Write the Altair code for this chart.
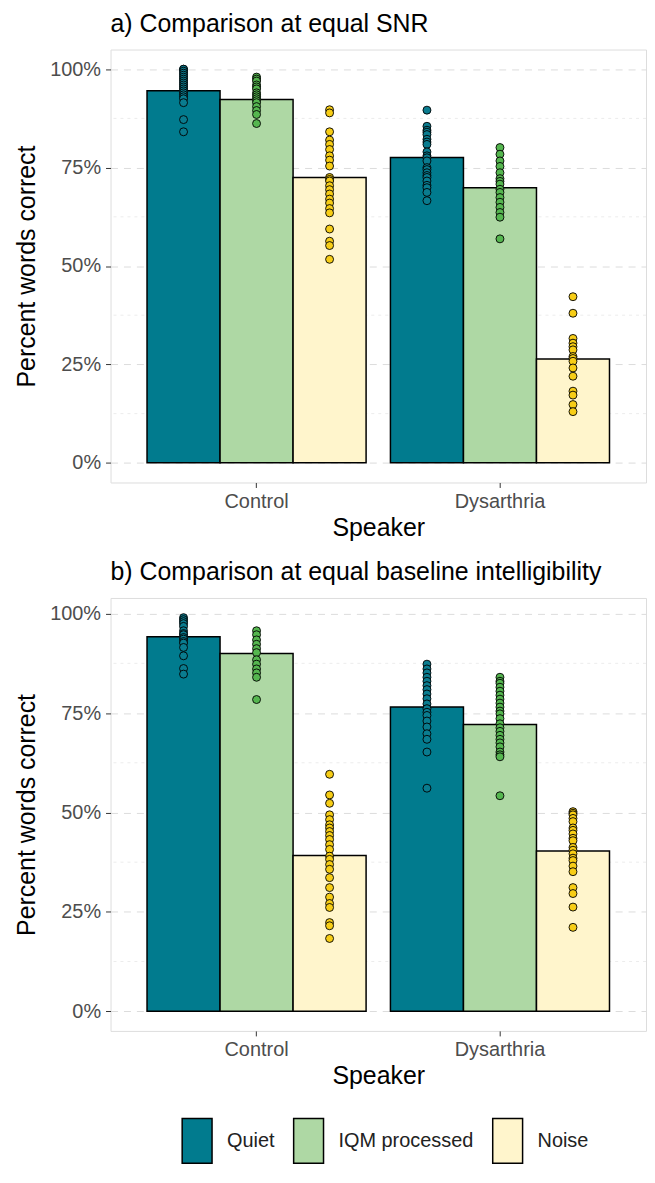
import altair as alt
import pandas as pd

speakers = ["Control", "Dysarthria"]
conditions = ["Quiet", "IQM processed", "Noise"]

# ---- individual listener scores (percent words correct) ----
# a) equal SNR
a_control_quiet = [100, 100, 99.5, 99, 98.5, 98, 97.5, 97, 96.5, 96, 95.5, 95, 94.5, 94, 93.5, 93, 92.5, 91.5, 87.2, 84.1]
a_control_iqm = [98, 97.5, 97, 96, 95.5, 95, 94, 93.5, 93, 92.5, 92, 91.5, 90.5, 89.5, 88.5, 86.2]
a_control_noise = [89.7, 88.9, 84.1, 82.0, 80.9, 79.6, 78.0, 76.9, 75.4, 72.5, 72.0, 71.6, 70.4, 69.4,
                   68.3, 67.0, 66.0, 64.6, 63.5, 59.4, 56.3, 55.2, 51.7]
a_dys_quiet = [89.6, 85.5, 84.5, 84.0, 83.4, 82.2, 81.5, 80.9, 79.0, 78.0, 77.5, 76.7, 75.0, 74.5,
               73.7, 73.0, 72.5, 71.6, 70.5, 69.9, 68.7, 66.6]
a_dys_iqm = [80.1, 78.4, 76.7, 75.3, 73.7, 72.2, 71.5, 70.8, 69.5, 68.7, 67.4, 66.2, 64.9, 63.6, 62.4, 56.9]
a_dys_noise = [42.2, 38.0, 31.6, 30.4, 29.5, 28.7, 27.0, 26.5, 25.8, 24.1, 22.0, 18.2, 17.2, 14.8, 13.0]

# b) equal baseline intelligibility
b_control_quiet = [99, 98.5, 98, 97.5, 96.8, 95.7, 95, 94.7, 94, 93.6, 93, 92.6, 91.5, 89.4, 86.2, 84.8]
b_control_iqm = [95.7, 94.7, 93.4, 92.3, 91.2, 90.2, 88.4, 87.3, 86.1, 85.1, 84.0, 78.4]
b_control_noise = [59.6, 54.4, 52.3, 49.4, 48.2, 46.9, 46.1, 45.2, 44.2, 43.2, 41.9, 40.7, 39.0, 38.2,
                   36.9, 35.7, 33.6, 31.1, 28.7, 27.1, 26.1, 22.3, 21.5, 18.3]
b_dys_quiet = [87.3, 86.1, 85.1, 84.0, 83.0, 81.9, 80.9, 79.8, 78.6, 77.3, 76.1, 75.2, 74.4, 73.0,
               71.5, 69.8, 68.4, 65.2, 56.1]
b_dys_iqm = [84, 83, 82.5, 81.5, 80.5, 79.5, 78.5, 77.5, 76.5, 75.5, 74.8, 73.6, 72.3, 71.3, 70.4,
             69.4, 68.4, 67.5, 66.5, 65.2, 64.5, 64.0, 54.2]
b_dys_noise = [50.2, 49.8, 49.4, 48.5, 47.7, 46.1, 45.5, 44.6, 43.5, 42.9, 41.2, 40.5, 39.6, 38.5,
               37.9, 36.5, 35.1, 31.1, 29.6, 26.2, 21.1]

# ---- bar heights (mean percent correct) ----
a_bar_control = [94.5, 92.3, 72.5]
a_bar_dys = [77.6, 69.9, 26.4]
b_bar_control = [94.2, 90.0, 39.2]
b_bar_dys = [76.5, 72.1, 40.3]

minor_grid = [12.5, 37.5, 62.5, 87.5]
tick_values = [0, 25, 50, 75, 100]

bar_colors = ["#017b8e", "#aed8a4", "#fff5cc"]
point_colors = ["#0a7c8f", "#55b64f", "#f7cd16"]

FONT = "Liberation Sans"

# ---- build tables ----
point_sets = {
    "a": [a_control_quiet, a_control_iqm, a_control_noise, a_dys_quiet, a_dys_iqm, a_dys_noise],
    "b": [b_control_quiet, b_control_iqm, b_control_noise, b_dys_quiet, b_dys_iqm, b_dys_noise],
}
bar_sets = {"a": [a_bar_control, a_bar_dys], "b": [b_bar_control, b_bar_dys]}

prow, brow = [], []
for panel_key in ["a", "b"]:
    sets = point_sets[panel_key]
    for si, sp in enumerate(speakers):
        for ci, cond in enumerate(conditions):
            for v in sets[si * 3 + ci]:
                prow.append({"panel": panel_key, "speaker": sp, "condition": cond,
                             "value": v / 100.0, "pcolor": point_colors[ci]})
            brow.append({"panel": panel_key, "speaker": sp, "condition": cond,
                         "value": bar_sets[panel_key][si][ci] / 100.0})
points_df = pd.DataFrame(prow)
bars_df = pd.DataFrame(brow)
minor_df = pd.DataFrame({"v": [m / 100.0 for m in minor_grid]})

W, H = 538, 435
PAD_L, PAD_T = 6, 0
PLOT_LEFT, PLOT_TOP = 108, 46


def panel(key, title, domain):
    yscale = alt.Scale(domain=domain, nice=False, zero=False)
    yaxis = alt.Axis(title="Percent words correct", values=[t / 100.0 for t in tick_values],
                     format=".0%", grid=True, gridDash=[7, 6], gridColor="#dcdcdc", gridWidth=1,
                     tickSize=5, tickColor="#333333", tickWidth=1, domain=False,
                     labelFontSize=20, labelColor="#4d4d4d", labelFont=FONT, labelPadding=5,
                     titleFontSize=25, titleFont=FONT, titleFontWeight="normal", titleColor="black",
                     titlePadding=10)
    xenc = alt.X("speaker:N", sort=speakers,
                 scale=alt.Scale(domain=speakers, paddingInner=0.1, paddingOuter=0.15),
                 axis=alt.Axis(title="Speaker", labelAngle=0, grid=False, domain=False,
                               tickSize=5, tickColor="#333333", labelFontSize=20,
                               labelColor="#4d4d4d", labelFont=FONT, labelPadding=4,
                               titleFontSize=25, titleFont=FONT, titleFontWeight="normal",
                               titleColor="black", titlePadding=4))
    xoff = alt.XOffset("condition:N", sort=conditions,
                       scale=alt.Scale(domain=conditions, paddingInner=0, paddingOuter=0))

    minor = alt.Chart(minor_df).mark_rule(strokeDash=[3, 4], color="#ececec", strokeWidth=1).encode(
        y=alt.Y("v:Q", scale=yscale, axis=yaxis)
    )
    bars = alt.Chart(bars_df[bars_df.panel == key]).mark_bar(
        stroke="black", strokeWidth=1.5, opacity=1
    ).encode(
        x=xenc, xOffset=xoff,
        y=alt.Y("value:Q", scale=yscale, axis=yaxis),
        y2=alt.datum(0),
        fill=alt.Fill("condition:N", sort=conditions,
                      scale=alt.Scale(domain=conditions, range=bar_colors),
                      legend=alt.Legend(title=None, orient="none", direction="horizontal",
                                        columns=3, legendX=180 - 8.5 - PLOT_LEFT,
                                        legendY=1142.5 - 23.5 - PLOT_TOP,
                                        symbolType="M-0.667,-1L0.667,-1L0.667,1L-0.667,1Z",
                                        symbolSize=2025, symbolStrokeColor="black",
                                        symbolStrokeWidth=1.5, symbolOpacity=1,
                                        labelFontSize=20, labelFont=FONT, labelColor="#222222",
                                        labelOffset=6.5, columnPadding=10, padding=0)),
    )
    pts = alt.Chart(points_df[points_df.panel == key]).mark_circle(
        size=64, stroke="black", strokeWidth=0.9, opacity=1
    ).encode(
        x=xenc, xOffset=xoff,
        y=alt.Y("value:Q", scale=yscale, axis=yaxis),
        fill=alt.Fill("pcolor:N", scale=None, legend=None),
    )
    return alt.layer(minor, bars, pts).properties(
        width=W, height=H,
        title=alt.TitleParams(title, anchor="start", frame="group", fontSize=25, font=FONT,
                              fontWeight="normal", color="black", offset=13),
    )


pa = panel("a", "a) Comparison at equal SNR", [-0.05, 1.05])
pb = panel("b", "b) Comparison at equal baseline intelligibility", [-0.0495, 1.0395])

chart = alt.vconcat(pa, pb, spacing=18).properties(
    padding={"left": PAD_L, "top": PAD_T, "right": 0, "bottom": 0}
).configure_view(stroke="#4d4d4d", strokeWidth=1).configure(background="white")

chart.save("out.html", embed_options={"renderer": "svg", "actions": False})
